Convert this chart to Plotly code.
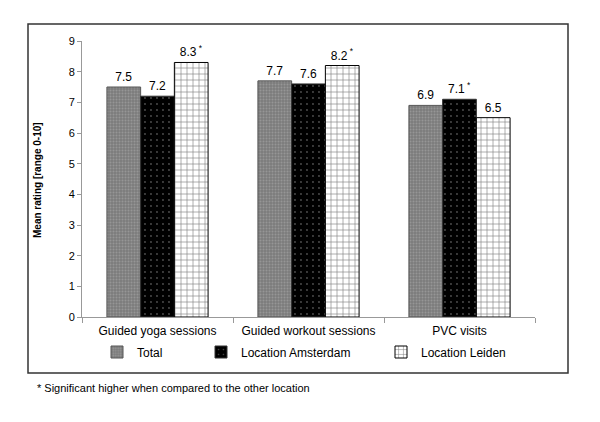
import plotly.graph_objects as go

categories = ["Guided yoga sessions", "Guided workout sessions", "PVC visits"]
series_names = ["Total", "Location Amsterdam", "Location Leiden"]
total_vals = [7.5, 7.7, 6.9]
amsterdam_vals = [7.2, 7.6, 7.1]
leiden_vals = [8.3, 8.2, 6.5]
total_sig = ["", "", ""]
amsterdam_sig = ["", "", "*"]
leiden_sig = ["*", "*", ""]
y_ticks = [0, 1, 2, 3, 4, 5, 6, 7, 8, 9]
footnote = "* Significant higher when compared to the other location"
y_title = "Mean rating [range 0-10]"

FONT = "Liberation Sans, Arial, sans-serif"
OFF = 8  # page body margin offset

def labels(vals, sig):
    return [f"{v:.1f}" + (f"<sup> {s}</sup>" if s else "") for v, s in zip(vals, sig)]

styles = [
    dict(color="#8a8a8a", pattern=dict(shape=".", fgcolor="#b0b0b0", bgcolor="#7c7c7c", size=3, solidity=0.35),
         line=dict(color="#555555", width=1)),
    dict(color="#000000", pattern=dict(shape=".", fgcolor="#9a9a9a", bgcolor="#000000", size=6, solidity=0.08),
         line=dict(color="#333333", width=1)),
    dict(color="#ffffff", pattern=dict(shape="+", fgcolor="#000000", bgcolor="#ffffff", size=6, solidity=0.2),
         line=dict(color="#000000", width=1)),
]

fig = go.Figure()
data = [(total_vals, total_sig), (amsterdam_vals, amsterdam_sig), (leiden_vals, leiden_sig)]
legends = ["legend", "legend2", "legend3"]
for i, ((vals, sig), name) in enumerate(zip(data, series_names)):
    fig.add_trace(go.Bar(
        x=categories, y=vals, name=name,
        marker=styles[i],
        text=labels(vals, sig), textposition="outside",
        textfont=dict(family=FONT, size=12, color="#000"),
        cliponaxis=False,
        legend=legends[i],
    ))

W, H = 600, 422
# target screen coordinates of plot area
SL, SR, ST, SB = 82, 535, 41, 317
L, R, T, B = SL - OFF, W - (SR - OFF), ST - OFF, H - (SB - OFF)
pw, ph = W - L - R, H - T - B

def px(x):
    return (x - OFF - L) / pw

def py(y):
    return (H - B - (y - OFF)) / ph

def leg(x):
    return dict(x=px(x), y=py(352), xanchor="left", yanchor="middle", xref="paper", yref="paper",
                font=dict(family=FONT, size=12, color="#000"), itemwidth=30,
                bgcolor="rgba(0,0,0,0)")

fig.update_layout(
    width=W, height=H,
    margin=dict(l=L, r=R, t=T, b=B, autoexpand=False),
    paper_bgcolor="white", plot_bgcolor="white",
    barmode="group", bargap=0.33, bargroupgap=0,
    font=dict(family=FONT, size=11, color="#000"),
    showlegend=True,
    legend=leg(122 - 25),
    legend2=leg(226 - 25),
    legend3=leg(406 - 25),
    xaxis=dict(showline=True, linecolor="#999999", linewidth=1, ticks="outside",
               tickson="boundaries", ticklen=5, tickcolor="#999999", automargin=False,
               ticklabelstandoff=3,
               tickfont=dict(family=FONT, size=12, color="#000"), showgrid=False),
    yaxis=dict(range=[0, 9], tickvals=y_ticks, showline=True, linecolor="#999999", linewidth=1,
               ticks="outside", ticklen=4, tickcolor="#999999", showgrid=False, zeroline=False,
               automargin=False,
               tickfont=dict(family=FONT, size=11, color="#000")),
    shapes=[dict(type="rect", xref="paper", yref="paper",
                 x0=px(28), x1=px(568), y0=py(373), y1=py(24),
                 line=dict(color="#333333", width=1.5), fillcolor="rgba(0,0,0,0)", layer="below")],
    annotations=[
        dict(text=footnote, xref="paper", yref="paper", x=px(35), y=py(388),
             xanchor="left", yanchor="middle", showarrow=False,
             font=dict(family=FONT, size=11, color="#000")),
        dict(text="<b>" + y_title + "</b>", xref="paper", yref="paper", x=px(37), y=py(180),
             xanchor="center", yanchor="middle", showarrow=False, textangle=-90,
             font=dict(family=FONT, size=10, color="#000")),
    ],
)

fig.write_html("out.html")
